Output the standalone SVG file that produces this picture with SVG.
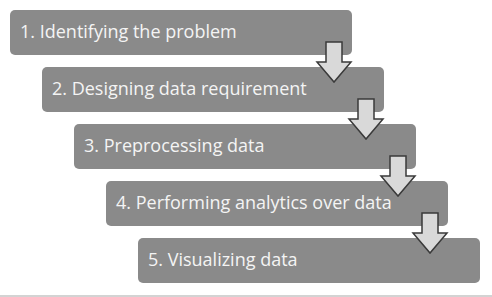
<svg xmlns="http://www.w3.org/2000/svg" width="492" height="297" viewBox="0 0 492 297">
<defs>
<style>
.box{fill:#8a8a8a;}
.lbl{font-family:"Open Sans","Liberation Sans",sans-serif;font-size:18px;fill:#f4f4f4;}
.arr{fill:#d9d9d9;stroke:#3a3a3a;stroke-width:1.5;stroke-linejoin:miter;}
</style>
<path id="down" d="M-8,0 H8 V20 H17 L0,40 L-17,20 H-8 Z"/>
</defs>
<rect x="0" y="0" width="492" height="297" fill="#ffffff"/>
<g id="node1"><rect class="box" x="10" y="10" width="342" height="45" rx="5"/><text class="lbl" x="20" y="38">1. Identifying the problem</text></g>
<g id="node2"><rect class="box" x="42" y="67" width="342" height="45" rx="5"/><text class="lbl" x="52" y="95">2. Designing data requirement</text></g>
<g id="node3"><rect class="box" x="74" y="124" width="342" height="45" rx="5"/><text class="lbl" x="84" y="152">3. Preprocessing data</text></g>
<g id="node4"><rect class="box" x="106" y="181" width="342" height="45" rx="5"/><text class="lbl" x="116" y="209">4. Performing analytics over data</text></g>
<g id="node5"><rect class="box" x="138" y="238" width="342" height="45" rx="5"/><text class="lbl" x="148" y="266">5. Visualizing data</text></g>
<g id="connectors">
<use href="#down" class="arr" x="334" y="42"/>
<use href="#down" class="arr" x="366" y="99"/>
<use href="#down" class="arr" x="398" y="156"/>
<use href="#down" class="arr" x="430" y="213"/>
</g>
<line x1="0" y1="296" x2="492" y2="296" stroke="#c4c4c4" stroke-width="1.5"/>
</svg>
